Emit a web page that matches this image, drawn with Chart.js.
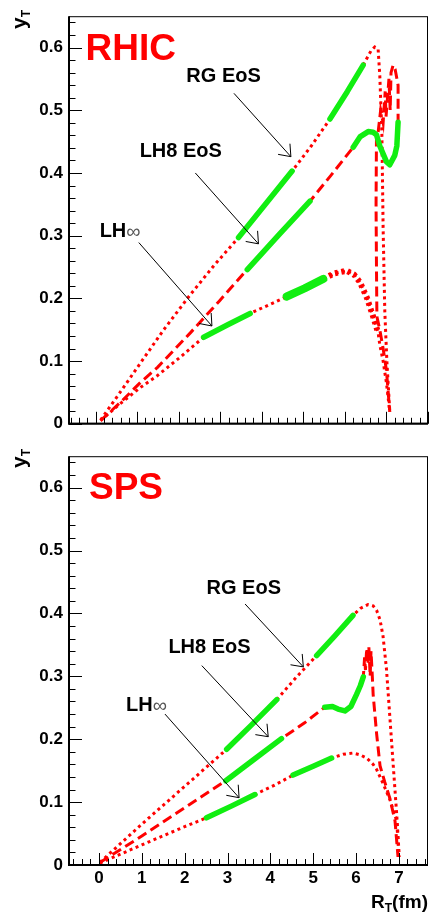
<!DOCTYPE html>
<html>
<head>
<meta charset="utf-8">
<script src="https://cdn.jsdelivr.net/npm/chart.js@4.4.1/dist/chart.umd.min.js"></script>
<style>
  html, body { margin: 0; padding: 0; background: #fff; }
  #wrap { position: relative; width: 429px; height: 913px; }
  .pad { position: absolute; left: 0; width: 429px; }
  #top { top: 0; height: 440px; }
  #bot { top: 440px; height: 473px; }
</style>
</head>
<body>
<div id="wrap">
  <div class="pad" id="top"><canvas id="rhicChart" width="429" height="440"></canvas></div>
  <div class="pad" id="bot"><canvas id="spsChart" width="429" height="473"></canvas></div>
</div>
<script>
// Axis ranges and tick labels
const xTickValues = [0, 1, 2, 3, 4, 5, 6, 7];
const yTickValues = [0, 0.1, 0.2, 0.3, 0.4, 0.5, 0.6];
const rhicXRange = [-0.64, 8.0];
const spsXRange = [-0.70, 7.68];
const yRange = [0, 0.65];

// RHIC curves [R_T, y_T]
const rhicRG = [[0.12,0.006],[0.61,0.052],[1.08,0.097],[1.64,0.150],[2.28,0.206],[2.87,0.254],[3.44,0.297],
  [4.11,0.352],[4.73,0.403],[5.19,0.443],[5.64,0.486],[6.06,0.530],[6.44,0.572],[6.63,0.595],[6.72,0.601],
  [6.80,0.597],[6.84,0.555],[6.89,0.464],[6.92,0.312],[6.96,0.180],[7.01,0.100],[7.08,0.020]];
const rhicRGGreen = [[3.44,0.297],[4.11,0.352],[4.73,0.403], null, [5.64,0.486],[6.06,0.530],[6.44,0.572]];

const rhicLH8 = [[0.12,0.005],[0.61,0.035],[1.08,0.066],[1.49,0.090],[2.28,0.145],[2.98,0.196],[3.65,0.246],
  [4.42,0.302],[5.16,0.355],[5.65,0.395],[6.20,0.441],[6.37,0.458],[6.56,0.466],[6.68,0.465],[6.76,0.461],
  [6.84,0.443],[7.00,0.418],[7.08,0.413],[7.20,0.428],[7.25,0.443],[7.28,0.481],[7.28,0.540],[7.21,0.565],
  [7.16,0.572],[7.11,0.560],[7.09,0.500],[7.06,0.550],[6.99,0.490],[6.97,0.530],[6.92,0.480],[6.86,0.500],
  [6.80,0.465],[6.76,0.460],[6.75,0.350],[6.76,0.250],[6.77,0.171],[6.84,0.150],[6.92,0.120],[7.00,0.085],
  [7.08,0.019]];
const rhicLH8Green = [[3.65,0.246],[4.42,0.302],[5.16,0.355], null, [6.20,0.441],[6.37,0.458],[6.56,0.466],
  [6.68,0.465],[6.76,0.461],[6.84,0.443],[7.00,0.418],[7.08,0.413],[7.20,0.428],[7.25,0.443],[7.28,0.481]];

const rhicLHinf = [[0.12,0.005],[0.61,0.033],[1.08,0.058],[1.49,0.077],[2.05,0.107],[2.60,0.138],[3.18,0.158],
  [3.72,0.176],[4.28,0.193],[4.60,0.203],[5.03,0.216],[5.48,0.231],[5.75,0.240],[6.04,0.244],[6.22,0.238],
  [6.36,0.226],[6.53,0.201],[6.68,0.171],[6.80,0.145],[6.84,0.126],[6.92,0.100],[7.00,0.065],[7.08,0.019]];
const rhicLHinfGreen = [[2.60,0.138],[3.18,0.158],[3.72,0.176], null, [4.60,0.203],[5.03,0.216],[5.48,0.231]];
const rhicLHinfBand = [5.45, 6.82];

// SPS curves [R_T, y_T]
const spsRG = [[0.02,0.004],[1.0,0.065],[2.0,0.125],[2.98,0.184],[3.55,0.222],[4.15,0.263],[4.60,0.298],
  [5.08,0.333],[5.50,0.364],[5.93,0.397],[6.10,0.408],[6.28,0.414],[6.40,0.412],[6.48,0.405],[6.56,0.390],
  [6.63,0.364],[6.71,0.312],[6.79,0.235],[6.87,0.157],[6.95,0.080],[7.01,0.013]];
const spsRGGreen = [[2.98,0.184],[3.55,0.222],[4.15,0.263], null, [5.08,0.333],[5.50,0.364],[5.93,0.397]];

const spsLH8 = [[0.02,0.004],[1.0,0.046],[2.0,0.091],[2.96,0.134],[3.60,0.167],[4.26,0.201],[4.80,0.226],
  [5.27,0.251],[5.45,0.252],[5.58,0.248],[5.74,0.245],[5.88,0.252],[6.01,0.271],[6.10,0.285],[6.17,0.299],
  [6.20,0.330],[6.22,0.310],[6.25,0.345],[6.28,0.320],[6.30,0.346],[6.33,0.300],[6.35,0.340],[6.38,0.300],
  [6.40,0.271],[6.44,0.240],[6.48,0.209],[6.56,0.158],[6.67,0.132],[6.79,0.106],[6.91,0.070],[6.98,0.013]];
const spsLH8Green = [[2.96,0.134],[3.60,0.167],[4.26,0.201], null, [5.27,0.251],[5.45,0.252],[5.58,0.248],
  [5.74,0.245],[5.88,0.252],[6.01,0.271],[6.10,0.285],[6.17,0.299]];

const spsLHinf = [[0.02,0.003],[1.0,0.032],[2.0,0.061],[2.51,0.075],[3.10,0.094],[3.64,0.112],[4.10,0.127],
  [4.53,0.143],[5.00,0.157],[5.43,0.170],[5.70,0.176],[5.93,0.178],[6.10,0.175],[6.25,0.170],[6.40,0.160],
  [6.48,0.152],[6.56,0.140],[6.63,0.130],[6.79,0.104],[6.95,0.070],[7.00,0.013]];
const spsLHinfGreen = [[2.51,0.075],[3.10,0.094],[3.64,0.112], null, [4.53,0.143],[5.00,0.157],[5.43,0.170]];

// Annotations: label centre and arrow start/end, in data units
const rhicNotes = [
  { text: 'RG EoS', at: [3.08, 0.554], arrow: [3.33, 0.527, 4.70, 0.426] },
  { text: 'LH8 EoS', at: [2.05, 0.434], arrow: [2.40, 0.400, 3.92, 0.287] },
  { text: 'LH', inf: true, at: [0.59, 0.307], arrow: [1.04, 0.289, 2.80, 0.156] }
];
const spsNotes = [
  { text: 'RG EoS', at: [3.38, 0.439], arrow: [3.41, 0.415, 4.77, 0.315] },
  { text: 'LH8 EoS', at: [2.58, 0.346], arrow: [2.40, 0.317, 3.95, 0.204] },
  { text: 'LH', inf: true, at: [1.11, 0.253], arrow: [1.54, 0.240, 3.27, 0.107] }
];

const RED = '#ff0000';
const GREEN = '#11ee11';
const FONT = "'Liberation Sans', Arial, Helvetica, sans-serif";

function pts(arr) {
  return arr.map(p => ({ x: p[0], y: p[1] }));
}

function segments(arr) {
  const out = [];
  let cur = [];
  arr.forEach(p => {
    if (p === null) { if (cur.length) out.push(cur); cur = []; }
    else cur.push(p);
  });
  if (cur.length) out.push(cur);
  return out;
}

function redLine(arr, dashed, width) {
  return {
    data: pts(arr),
    showLine: true,
    borderColor: RED,
    borderWidth: width || 3,
    borderDash: dashed ? [10, 5] : [3, 3.5],
    pointRadius: 0,
    fill: false,
    order: 1
  };
}

function greenLines(arr, widths) {
  return segments(arr).map((seg, i) => ({
    data: pts(seg),
    showLine: true,
    borderColor: GREEN,
    borderWidth: widths ? widths[i] : 5.5,
    borderCapStyle: 'round',
    borderJoinStyle: 'round',
    pointRadius: 0,
    fill: false,
    order: 0
  }));
}

function drawArrow(ctx, x1, y1, x2, y2) {
  const ang = Math.atan2(y2 - y1, x2 - x1);
  const len = 13, spread = 0.66;
  ctx.beginPath();
  ctx.moveTo(x1, y1);
  ctx.lineTo(x2, y2);
  ctx.moveTo(x2 - len * Math.cos(ang - spread), y2 - len * Math.sin(ang - spread));
  ctx.lineTo(x2, y2);
  ctx.lineTo(x2 - len * Math.cos(ang + spread), y2 - len * Math.sin(ang + spread));
  ctx.stroke();
}

// Frame, inward ticks, labels and titles
const decorPlugin = {
  id: 'decor',
  afterDatasetsDraw(chart, args, opts) {
    const { ctx, chartArea: a, scales } = chart;
    const xs = scales.x, ys = scales.y;
    ctx.save();
    ctx.strokeStyle = '#000';

    // y ticks every 0.02, major every 0.1
    ctx.lineWidth = 1;
    ctx.beginPath();
    for (let i = 0; i * 0.02 <= yRange[1] + 1e-9; i++) {
      const py = Math.round(ys.getPixelForValue(i * 0.02)) + 0.5;
      const len = i % 5 === 0 ? 13 : 6.5;
      ctx.moveTo(a.left, py);
      ctx.lineTo(a.left + len, py);
    }
    // x ticks every 0.2, major every 1
    const xr = opts.xRange;
    for (let i = Math.ceil(xr[0] / 0.2); i * 0.2 <= xr[1] + 1e-9; i++) {
      const px = Math.round(xs.getPixelForValue(i * 0.2)) + 0.5;
      const len = i % 5 === 0 ? 12 : 6;
      ctx.moveTo(px, a.bottom);
      ctx.lineTo(px, a.bottom - len);
    }
    ctx.stroke();

    // frame
    ctx.lineWidth = 1;
    ctx.strokeRect(a.left + 0.5, a.top + 0.5, a.right - a.left - 1, a.bottom - a.top - 1);
    ctx.lineWidth = 2;
    ctx.beginPath();
    ctx.moveTo(a.left, a.top);
    ctx.lineTo(a.left, a.bottom);
    ctx.lineTo(a.right, a.bottom);
    ctx.stroke();

    // annotations
    ctx.fillStyle = '#000';
    ctx.lineWidth = 1;
    ctx.textBaseline = 'middle';
    opts.notes.forEach(n => {
      const cx = xs.getPixelForValue(n.at[0]);
      const cy = ys.getPixelForValue(n.at[1]);
      ctx.font = 'bold 20px ' + FONT;
      if (n.inf) {
        const w1 = ctx.measureText(n.text).width;
        ctx.font = '20px ' + FONT;
        const w2 = ctx.measureText('\u221E').width;
        const x0 = cx - (w1 + w2) / 2;
        ctx.textAlign = 'left';
        ctx.font = 'bold 20px ' + FONT;
        ctx.fillStyle = '#000';
        ctx.fillText(n.text, x0, cy);
        ctx.font = '20px ' + FONT;
        ctx.fillStyle = '#555';
        ctx.fillText('\u221E', x0 + w1, cy + 1);
        ctx.fillStyle = '#000';
      } else {
        ctx.textAlign = 'center';
        ctx.fillText(n.text, cx, cy);
      }
      const ar = n.arrow;
      drawArrow(ctx, xs.getPixelForValue(ar[0]), ys.getPixelForValue(ar[1]),
        xs.getPixelForValue(ar[2]), ys.getPixelForValue(ar[3]));
    });

    // big panel label
    ctx.fillStyle = RED;
    ctx.textAlign = 'left';
    ctx.font = 'bold 37px ' + FONT;
    ctx.fillText(opts.panel.text, xs.getPixelForValue(opts.panel.at[0]), ys.getPixelForValue(opts.panel.at[1]));

    // y title: y_T rotated
    ctx.fillStyle = '#000';
    ctx.save();
    ctx.translate(26, opts.yTitleBottom);
    ctx.rotate(-Math.PI / 2);
    ctx.textAlign = 'left';
    ctx.textBaseline = 'alphabetic';
    ctx.font = 'bold 21px ' + FONT;
    ctx.fillText('y', 0, 0);
    const wy = ctx.measureText('y').width;
    ctx.font = 'bold 12px ' + FONT;
    ctx.fillText('T', wy, 4);
    ctx.restore();

    // x title: R_T(fm)
    if (opts.xTitle) {
      ctx.textAlign = 'left';
      ctx.textBaseline = 'alphabetic';
      ctx.font = 'bold 19px ' + FONT;
      const wR = ctx.measureText('R').width;
      const wF = ctx.measureText('(fm)').width;
      ctx.font = 'bold 12px ' + FONT;
      const wT = ctx.measureText('T').width;
      const x0 = 428 - (wR + wT + wF);
      const base = chart.height - 5;
      ctx.font = 'bold 19px ' + FONT;
      ctx.fillText('R', x0, base);
      ctx.fillText('(fm)', x0 + wR + wT, base);
      ctx.font = 'bold 12px ' + FONT;
      ctx.fillText('T', x0 + wR, base + 4);
    }
    ctx.restore();
  }
};

function makePanel(canvasId, cfg) {
  const datasets = [].concat(cfg.red, cfg.green);
  return new Chart(document.getElementById(canvasId), {
    type: 'scatter',
    data: { datasets: datasets },
    options: {
      responsive: false,
      animation: false,
      devicePixelRatio: 1,
      layout: { padding: { top: cfg.padTop, right: 1, left: 0, bottom: 0 } },
      plugins: {
        legend: { display: false },
        tooltip: { enabled: false },
        decor: {
          notes: cfg.notes,
          panel: cfg.panel,
          xRange: cfg.xRange,
          yTitleBottom: cfg.yTitleBottom,
          xTitle: cfg.xTitle
        }
      },
      scales: {
        x: {
          type: 'linear',
          min: cfg.xRange[0],
          max: cfg.xRange[1],
          afterBuildTicks: s => { s.ticks = xTickValues.map(v => ({ value: v })); },
          afterFit: s => { s.height = cfg.xAxisHeight; },
          grid: { display: false, drawTicks: false },
          border: { display: false },
          ticks: {
            display: cfg.xLabels,
            color: '#000',
            padding: 3,
            maxRotation: 0,
            font: { family: FONT, size: 17, weight: 'bold' }
          }
        },
        y: {
          type: 'linear',
          min: yRange[0],
          max: yRange[1],
          afterBuildTicks: s => { s.ticks = yTickValues.map(v => ({ value: v })); },
          afterFit: s => { s.width = 69; },
          grid: { display: false, drawTicks: false },
          border: { display: false },
          ticks: {
            color: '#000',
            padding: 6,
            font: { family: FONT, size: 17, weight: 'bold' },
            callback: v => String(Math.round(v * 10) / 10)
          }
        }
      }
    },
    plugins: [decorPlugin]
  });
}

const rhicBand = rhicLHinf.filter(p => p[0] >= rhicLHinfBand[0] && p[0] <= rhicLHinfBand[1]);

makePanel('rhicChart', {
  red: [redLine(rhicRG, false), redLine(rhicLH8, true), redLine(rhicLHinf, false), redLine(rhicBand, false, 6)],
  green: [].concat(greenLines(rhicRGGreen), greenLines(rhicLH8Green), greenLines(rhicLHinfGreen, [5.5, 8])),
  notes: rhicNotes,
  panel: { text: 'RHIC', at: [-0.24, 0.596] },
  xRange: rhicXRange,
  padTop: 8,
  xAxisHeight: 4,
  xLabels: false,
  yTitleBottom: 29,
  xTitle: false
});

makePanel('spsChart', {
  red: [redLine(spsRG, false), redLine(spsLH8, true), redLine(spsLHinf, false)],
  green: [].concat(greenLines(spsRGGreen), greenLines(spsLH8Green), greenLines(spsLHinfGreen)),
  notes: spsNotes,
  panel: { text: 'SPS', at: [-0.233, 0.598] },
  xRange: spsXRange,
  padTop: 5,
  xAxisHeight: 48,
  xLabels: true,
  yTitleBottom: 28,
  xTitle: true
});
</script>
</body>
</html>
